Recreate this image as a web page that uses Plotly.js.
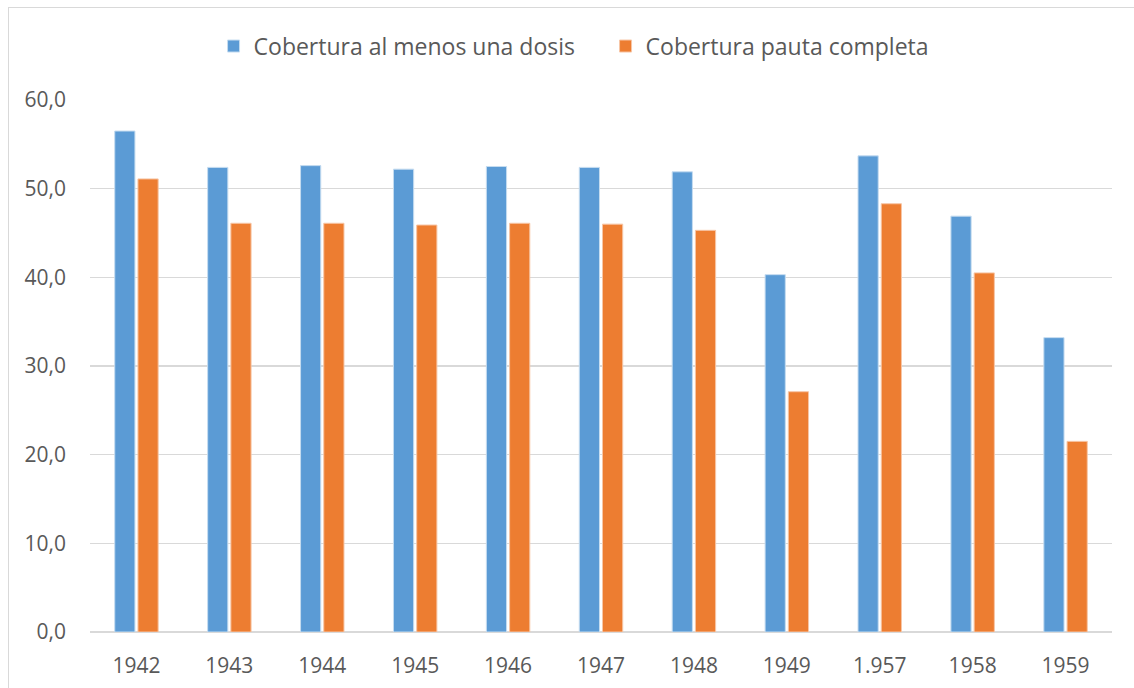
<!DOCTYPE html>
<html>
<head>
<meta charset="utf-8">
<script src="https://cdn.plot.ly/plotly-3.0.1.min.js"></script>
<style>
  html, body { margin: 0; padding: 0; background: #fff; }
  #wrap { position: relative; width: 1134px; height: 688px; overflow: hidden; }
  #chart { position: absolute; left: 0; top: 0; width: 1134px; height: 688px; }
  #frame { position: absolute; left: 8px; top: 7px; width: 1140px; height: 700px; border: 1px solid #d9d9d9; pointer-events: none; }
</style>
</head>
<body>
<div id="wrap">
  <div id="chart"></div>
  <div id="frame"></div>
</div>
<script>
const categories = ["1942", "1943", "1944", "1945", "1946", "1947", "1948", "1949", "1.957", "1958", "1959"];
const seriesNames = ["Cobertura al menos una dosis", "Cobertura pauta completa"];
const alMenosUnaDosis = [56.5, 52.4, 52.6, 52.2, 52.5, 52.4, 51.9, 40.3, 53.7, 46.9, 33.2];
const pautaCompleta = [51.1, 46.1, 46.1, 45.9, 46.1, 46.0, 45.3, 27.1, 48.3, 40.5, 21.5];
const yTickVals = [0, 10, 20, 30, 40, 50, 60];
const yTickText = ["0,0", "10,0", "20,0", "30,0", "40,0", "50,0", "60,0"];

const fam = "'Open Sans', 'Noto Sans', sans-serif";
const tickFont = { family: fam, size: 21, color: "#595959" };
const legendFont = { family: fam, size: 23, color: "#595959" };

const traces = [
  { type: "bar", name: seriesNames[0], x: categories, y: alMenosUnaDosis,
    marker: { color: "#5b9bd5", line: { color: "#c5dcf0", width: 1 } } },
  { type: "bar", name: seriesNames[1], x: categories, y: pautaCompleta,
    marker: { color: "#ed7d31", line: { color: "#f7c6a6", width: 1 } } }
];

const layout = {
  width: 1134, height: 688,
  margin: { l: 90, r: 22, t: 100, b: 56 },
  paper_bgcolor: "#ffffff", plot_bgcolor: "#ffffff",
  font: tickFont,
  barmode: "group",
  bargap: 0.5,
  bargroupgap: 0.13,
  showlegend: true,
  legend: {
    orientation: "h", xref: "container", yref: "container",
    x: 0.534, y: 0.933, xanchor: "center", yanchor: "middle",
    font: legendFont, itemclick: false, traceorder: "normal",
    entrywidth: 347
  },
  xaxis: {
    type: "category", showgrid: false, zeroline: false, showline: false,
    ticks: "", tickfont: tickFont, ticklabelstandoff: 19
  },
  yaxis: {
    range: [0, 60], tickvals: yTickVals, ticktext: yTickText,
    showgrid: true, gridcolor: "#d9d9d9", gridwidth: 1.3,
    zeroline: true, zerolinecolor: "#d9d9d9", zerolinewidth: 1.3,
    showline: false, ticks: "", tickfont: tickFont, ticklabelstandoff: 23,
    fixedrange: true
  }
};

Plotly.newPlot("chart", traces, layout, { staticPlot: true, displayModeBar: false });
</script>
</body>
</html>
